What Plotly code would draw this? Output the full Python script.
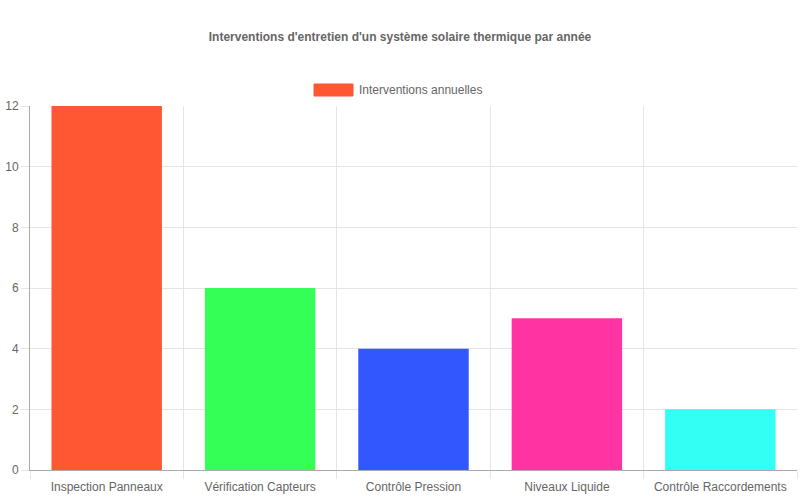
import plotly.graph_objects as go

categories = [
    "Inspection Panneaux",
    "Vérification Capteurs",
    "Contrôle Pression",
    "Niveaux Liquide",
    "Contrôle Raccordements",
]
interventions = [12, 6, 4, 5, 2]
bar_colors = ["#FF5733", "#33FF57", "#3357FF", "#FF33A1", "#33FFF5"]
series_name = "Interventions annuelles"
title = "Interventions d'entretien d'un système solaire thermique par année"

font_family = "Liberation Sans, Arial, sans-serif"
grid_color = "#e5e5e5"
text_color = "#666666"

# plot area in page pixels (body margin is removed below)
plot_l, plot_r, plot_t, plot_b = 30, 797, 106, 470
pw = plot_r - plot_l
ph = plot_b - plot_t

fig = go.Figure()
fig.add_trace(go.Bar(
    x=categories,
    y=interventions,
    name=series_name,
    marker=dict(color=bar_colors, line=dict(width=0)),
    showlegend=False,
    hoverinfo="skip",
))

fig.update_layout(
    width=800,
    height=500,
    margin=dict(l=plot_l, r=800 - plot_r, t=plot_t, b=500 - plot_b),
    paper_bgcolor="white",
    plot_bgcolor="white",
    bargap=0.28,
    font=dict(family=font_family, size=12, color=text_color),
    title=dict(
        text="<b>" + title + "</b>",
        x=0.5, xanchor="center",
        y=1 - 37 / 500, yanchor="middle",
        font=dict(size=12, color=text_color),
    ),
)

fig.update_xaxes(
    type="category",
    tickson="boundaries",
    automargin=False,
    showgrid=True,
    gridcolor=grid_color,
    ticks="outside",
    ticklen=8,
    tickcolor=grid_color,
    ticklabelstandoff=6,
    showline=True,
    linecolor="#aaaaaa",
    linewidth=1,
    tickfont=dict(size=12, color=text_color),
)
fig.update_yaxes(
    range=[0, 12],
    dtick=2,
    automargin=False,
    showgrid=True,
    gridcolor=grid_color,
    zeroline=False,
    ticks="outside",
    ticklen=8,
    tickcolor=grid_color,
    showline=True,
    linecolor="#aaaaaa",
    linewidth=1,
    tickfont=dict(size=12, color=text_color),
)

# Chart.js style legend box above the plot
fig.add_shape(
    type="rect", xref="paper", yref="paper",
    x0=(314 - plot_l) / pw, x1=(353 - plot_l) / pw,
    y0=1 + (plot_t - 96) / ph, y1=1 + (plot_t - 84) / ph,
    fillcolor=bar_colors[0], line=dict(color=bar_colors[0], width=1),
)
fig.add_annotation(
    text=series_name, xref="paper", yref="paper",
    x=(357 - plot_l) / pw, y=1 + (plot_t - 90) / ph,
    xanchor="left", yanchor="middle", showarrow=False,
    font=dict(size=12, color=text_color),
)

fig.write_html(
    "out.html",
    config={"displayModeBar": False},
    post_script="document.body.style.margin = '0';",
)
